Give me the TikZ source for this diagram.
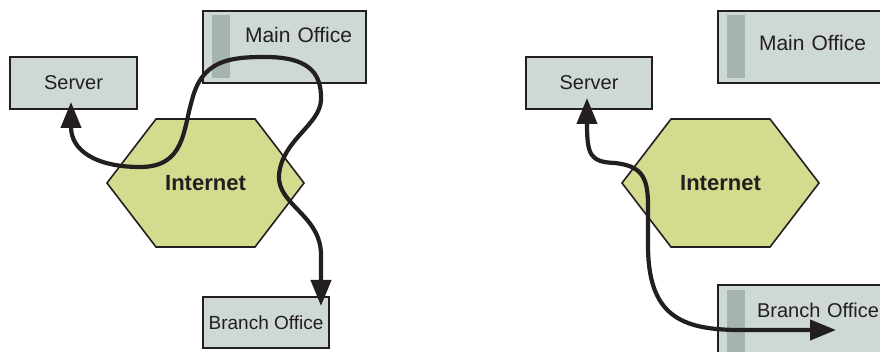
\documentclass[tikz,border=0pt]{standalone}
\usepackage{fontspec}
\setmainfont{Liberation Sans}
\usetikzlibrary{arrows.meta,calc}

\definecolor{boxfill}{RGB}{207,217,212}
\definecolor{barfill}{RGB}{165,181,173}
\definecolor{inetfill}{RGB}{212,218,142}
\definecolor{inkdark}{RGB}{35,31,32}

\tikzset{
  site/.style={draw=inkdark, line width=2pt, fill=boxfill, text=inkdark, inner sep=0pt,
    font=\fontsize{20}{24}\selectfont},
  officebar/.style={fill=barfill},
  hexa/.style={draw=inkdark, line width=1.6pt, fill=inetfill, line join=miter},
  inet/.style={text=inkdark, font=\fontsize{22}{26}\selectfont\bfseries},
  route/.style={draw=inkdark, line width=4.2pt,
    {Triangle[length=26pt,width=20pt]}-{Triangle[length=26pt,width=20pt]}},
}

\begin{document}
\begin{tikzpicture}[x=1pt, y=-1pt]

    \clip (0,0) rectangle (880,352);

    % left: detour through the main office
    \draw[hexa] (107,183) -- (156,119) -- (255,119) -- (304,183) -- (255,247) -- (156,247) -- cycle;
    \node[inet] (inetL) at (205.5,183) {Internet};

    \node[site, minimum width=127pt, minimum height=52pt] (serverL) at (73.5,83) {Server};
    \node[site, text width=135pt, align=right, inner xsep=14pt, text height=31.7pt, text depth=40.3pt,
      font=\fontsize{21}{25}\selectfont] (mainL) at (284.5,47) {Main Office};
    \fill[officebar] ($(mainL.north west)+(10,5)$) rectangle ($(mainL.south west)+(28,-6)$);
    \node[site, minimum width=126pt, minimum height=51pt, font=\fontsize{19}{23}\selectfont] (branchL) at (266,322.5) {Branch Office};

    \draw[route] ($(serverL.south)+(-2.5,-8)$) .. controls (71,150) and (95,167) .. (140,167)
      .. controls (185,167) and (183,130) .. (192,100)
      .. controls (202,60) and (230,57) .. (265,57)
      .. controls (305,57) and (322,70) .. (321,100)
      .. controls (320,125) and (282,140) .. (279,175)
      .. controls (277,205) and (321,215) .. (321,255)
      -- ($(branchL.north)+(55,10)$);

    % right: direct path
    \draw[hexa] (622,183) -- (671,119) -- (770,119) -- (819,183) -- (770,247) -- (671,247) -- cycle;
    \node[inet] (inetR) at (720.5,183) {Internet};

    \node[site, minimum width=126pt, minimum height=52pt] (serverR) at (589,83) {Server};
    \node[site, text width=120pt, align=left, inner xsep=41pt, text height=40pt, text depth=32pt,
      font=\fontsize{21}{25}\selectfont] (mainR) at (819,47) {Main Office};
    \fill[officebar] ($(mainR.north west)+(10,5)$) rectangle ($(mainR.south west)+(28,-6)$);
    \node[site, text width=125pt, align=left, inner xsep=39pt, text height=32pt, text depth=53pt] (branchR) at (819.5,327.5) {Branch Office};
    \fill[officebar] ($(branchR.north west)+(10,6)$) rectangle ($(branchR.south west)+(28,-6)$);

    \draw[route] ($(serverR.south)+(-2,-12)$) .. controls (587,155) and (590,162) .. (615,163)
      .. controls (640,166) and (648,175) .. (648,205)
      -- (648,245)
      .. controls (648,315) and (680,330) .. (740,330)
      -- ($(branchR.west)+(119,2.5)$);

\end{tikzpicture}
\end{document}
